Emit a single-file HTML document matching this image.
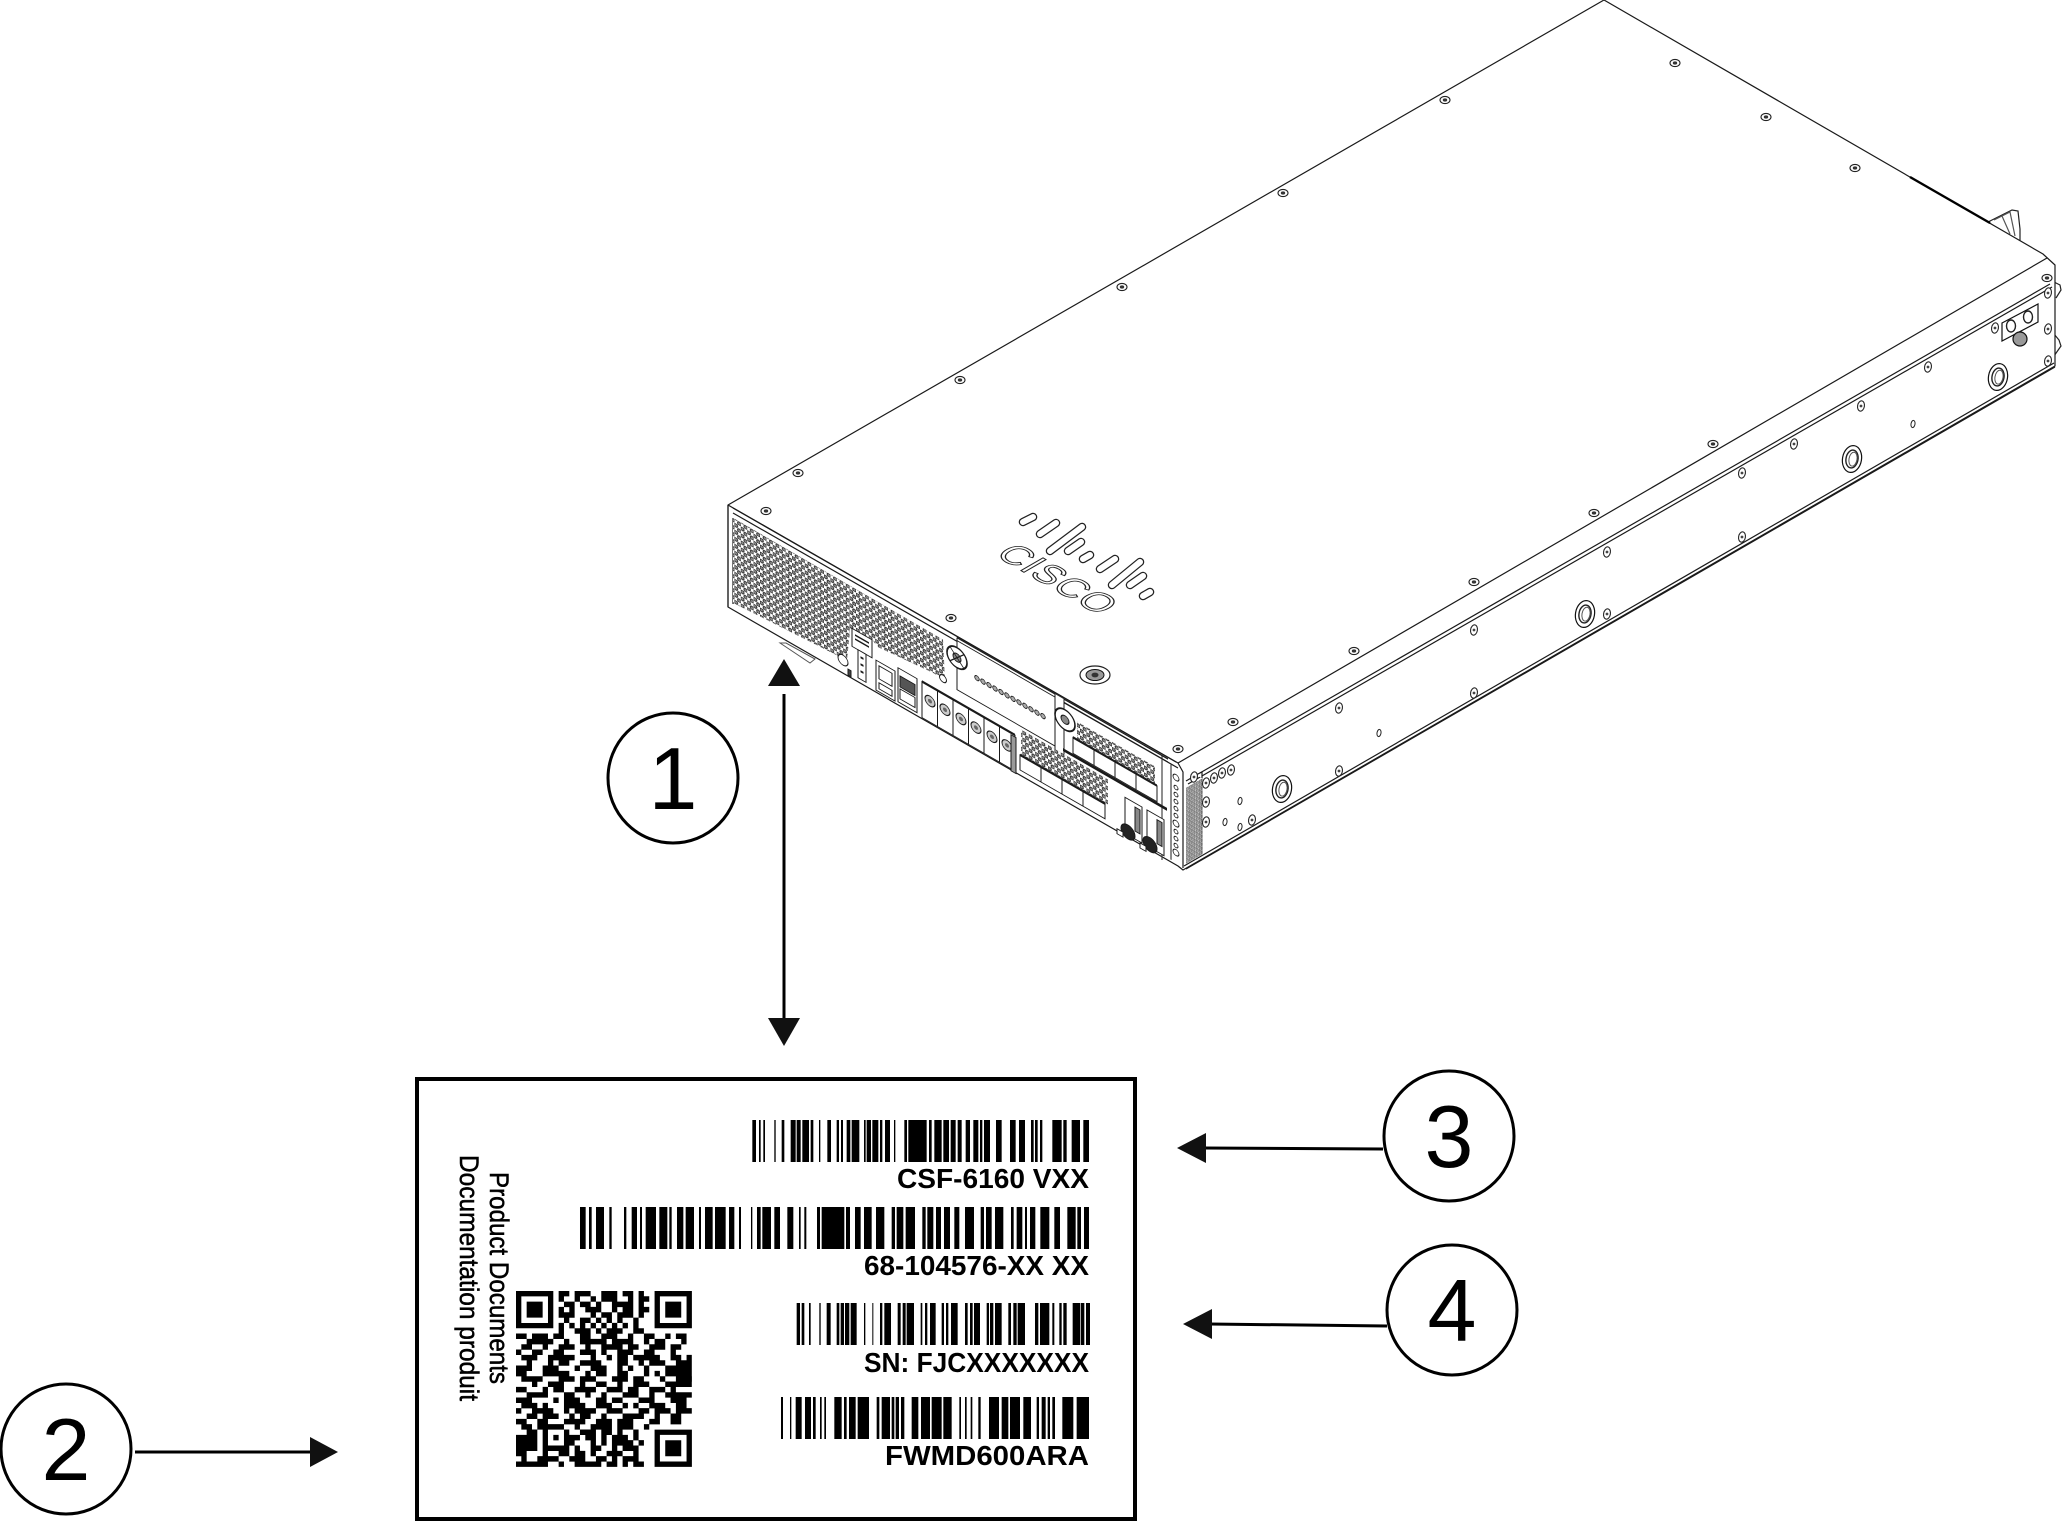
<!DOCTYPE html>
<html>
<head>
<meta charset="utf-8">
<style>
html,body{margin:0;padding:0;background:#fff}
svg{display:block}
text{font-family:"Liberation Sans",sans-serif;fill:#000}
</style>
</head>
<body>
<svg width="2062" height="1524" viewBox="0 0 2062 1524" xmlns="http://www.w3.org/2000/svg">
<defs>
<pattern id="hex" width="6.4" height="7" patternUnits="userSpaceOnUse">
<rect width="6.4" height="7" fill="#fff"/>
<circle cx="1.6" cy="1.75" r="1.7" fill="#8a8a8a" stroke="#222" stroke-width=".9"/>
<circle cx="4.8" cy="5.25" r="1.7" fill="#8a8a8a" stroke="#222" stroke-width=".9"/>
</pattern>
<pattern id="grid" width="3.4" height="4" patternUnits="userSpaceOnUse">
<rect width="3.4" height="4" fill="#fff"/>
<rect x=".4" y=".5" width="2.4" height="3" fill="#aaa" stroke="#444" stroke-width=".5"/>
</pattern>
<clipPath id="qc"><rect width="33" height="33"/></clipPath>
<g id="ts"><ellipse rx="5" ry="3.6" fill="#fff" stroke="#222" stroke-width="1.1"/><ellipse rx="2.2" ry="1.6" fill="#333"/></g>
<g id="ss"><ellipse rx="3.4" ry="5.2" fill="#fff" stroke="#222" stroke-width="1.1" transform="rotate(10)"/><circle r="1.4" fill="#444"/></g>
<g id="sm"><ellipse rx="2" ry="3.6" fill="#fff" stroke="#222" stroke-width="1" transform="rotate(10)"/></g>
<g id="gr"><ellipse rx="9.5" ry="13.5" fill="#fff" stroke="#111" stroke-width="1.2" transform="rotate(10)"/><ellipse rx="6" ry="9" fill="#fff" stroke="#222" stroke-width="1.4" transform="rotate(10)"/><ellipse cx="1" rx="4" ry="7" fill="#fff" stroke="#555" stroke-width="1" transform="rotate(10)"/></g>
</defs>

<!-- power supply latch behind -->
<g fill="#fff" stroke="#222" stroke-width="1.2">
<path d="M1988 222l24-12 6 1 2 18 0 12-8-3-24-16z"/>
<path d="M1994 220l16-8 5 24M2002 216l8 18" stroke="#555"/>
<path d="M2054 282l6 3 1 5-5 8M2054 334l5 6 2 6-7 10"/>
</g>

<!-- chassis -->
<g fill="#fff" stroke="#1a1a1a" stroke-width="1.2" stroke-linejoin="round">
<polygon points="728,505 1604,0 2043,254 2055,265 2055,366 1183,870 1178,866 728,607"/>
<path d="M1910 177L1990 223" stroke="#000" stroke-width="2.4"/>
<path d="M728 505L1178 763"/>
<path d="M1178 763L2047 258"/>
<path d="M1186 781L2050 284"/>
<path d="M1188 784L2052 287"/>
<path d="M1184 866L2054 363"/>
<path d="M1186 869L2055 367"/>
<path d="M733 508L1176 762"/>
<path d="M733 513L1178 768"/>
<path d="M1178 763L1183 772V868"/>
<path d="M1196 775l6-3v6"/>
<path d="M1162 755V860" stroke="#444"/>
<path d="M728 505V607M733 518V604"/>
</g>

<!-- top plate screws -->
<g>
<use href="#ts" x="1675" y="63"/><use href="#ts" x="1445" y="100"/><use href="#ts" x="1766" y="117"/>
<use href="#ts" x="1855" y="168"/><use href="#ts" x="1283" y="193"/><use href="#ts" x="1122" y="287"/>
<use href="#ts" x="960" y="380"/><use href="#ts" x="798" y="473"/><use href="#ts" x="766" y="511"/>
<use href="#ts" x="951" y="618"/><use href="#ts" x="1178" y="749"/><use href="#ts" x="1233" y="722"/>
<use href="#ts" x="1354" y="651"/><use href="#ts" x="1474" y="582"/><use href="#ts" x="1594" y="513"/>
<use href="#ts" x="1713" y="444"/><use href="#ts" x="2047" y="278"/>
<ellipse cx="1095" cy="675" rx="15" ry="9" fill="#fff" stroke="#222" stroke-width="1.2"/>
<ellipse cx="1095" cy="675" rx="9" ry="5.5" fill="#999" stroke="#111"/>
<ellipse cx="1095" cy="675" rx="3.5" ry="2.4" fill="#333"/>
</g>

<!-- Cisco logo -->
<g fill="none" stroke-linecap="round">
<path d="M1023 522l10-5M1040 534l16-11M1050 551l32-24M1068 551l13-9M1083 559l7-4M1100 569l15-10M1112 585l28-23M1130 585l13-9M1143 596l7-4" stroke="#222" stroke-width="8.5"/>
<path d="M1023 522l10-5M1040 534l16-11M1050 551l32-24M1068 551l13-9M1083 559l7-4M1100 569l15-10M1112 585l28-23M1130 585l13-9M1143 596l7-4" stroke="#fff" stroke-width="6"/>
</g>
<text transform="matrix(.867 .5 -.867 .5 994 555)" font-size="37" letter-spacing="1" style="fill:#fff;stroke:#222;stroke-width:1.1">CISCO</text>

<!-- front panel -->
<g transform="matrix(1 .575 0 1 728 505)" stroke="#1a1a1a" stroke-width="1" fill="#fff">
<polygon points="5,10 215,11 217,50 205,50 149,56 145,52 122,55 119,87 5,95" fill="url(#hex)" stroke="none"/>
<!-- status label -->
<rect x="124" y="52" width="20" height="18"/>
<rect x="130" y="70" width="8" height="28"/>
<path d="M127 57h14M127 61h14" stroke-width="1.6"/>
<circle cx="115" cy="89" r="5"/>
<path d="M134 75v2M134 82v2M134 89v2" stroke-width="3"/>
<rect x="120" y="95" width="3" height="6" fill="#444"/>
<!-- RJ45 + USB -->
<rect x="148" y="70" width="19" height="30"/>
<rect x="151" y="74" width="13" height="13"/>
<rect x="151" y="91" width="13" height="6"/>
<rect x="170" y="65" width="19" height="34"/>
<rect x="172" y="72" width="15" height="11" fill="#555"/>
<rect x="172" y="85" width="15" height="10"/>
<!-- SFP cages -->
<rect x="194" y="65" width="93" height="36"/>
<path d="M209.500 65v36M225 65v36M240.500 65v36M256 65v36M271.500 65v36"/>
<path d="M194 65h93" stroke-width="2.500"/>
<g fill="#ccc"><circle cx="202" cy="80" r="5"/><circle cx="217" cy="80" r="5"/><circle cx="233" cy="80" r="5"/><circle cx="248" cy="80" r="5"/><circle cx="264" cy="80" r="5"/><circle cx="279" cy="80" r="5"/></g>
<g fill="#666" stroke="none"><circle cx="202" cy="80" r="2"/><circle cx="217" cy="80" r="2"/><circle cx="233" cy="80" r="2"/><circle cx="248" cy="80" r="2"/><circle cx="264" cy="80" r="2"/><circle cx="279" cy="80" r="2"/></g>
<rect x="283" y="67" width="5" height="36" fill="#999"/>
<!-- NM module 1 -->
<path d="M229 1V53H327V1"/>
<path d="M229 1H440" stroke-width="1.4"/>
<path d="M229 4H440"/>
<circle cx="229" cy="21" r="10" fill="#fff" stroke-width="1.6"/>
<circle cx="229" cy="21" r="4" fill="#888"/>
<path d="M222 14l14 14M236 14l-14 14" stroke-width="1"/>
<g fill="#aaa" stroke-width=".8"><circle cx="249" cy="30" r="2.300"/><circle cx="255" cy="30" r="2.300"/><circle cx="261" cy="30" r="2.300"/><circle cx="267" cy="30" r="2.300"/><circle cx="273" cy="30" r="2.300"/><circle cx="279" cy="30" r="2.300"/><circle cx="285" cy="30" r="2.300"/><circle cx="291" cy="30" r="2.300"/><circle cx="297" cy="30" r="2.300"/><circle cx="303" cy="30" r="2.300"/><circle cx="309" cy="30" r="2.300"/><circle cx="315" cy="30" r="2.300"/></g>
<circle cx="215" cy="50" r="3.500"/>
<!-- NM module 2 -->
<path d="M327 1V60H336V1"/>
<circle cx="337" cy="21" r="10" stroke-width="1.6"/>
<circle cx="337" cy="21" r="4" fill="#888"/>
<rect x="349" y="16" width="78" height="17" fill="url(#hex)" stroke="none"/>
<rect x="345" y="34" width="84" height="16"/>
<path d="M366 34v16M387 34v16M408 34v16"/>
<path d="M345 34h84" stroke-width="2.400"/>
<rect x="293" y="56" width="87" height="26" fill="url(#hex)" stroke="none"/>
<rect x="292" y="82" width="85" height="15"/>
<path d="M313 82v15M334 82v15M355 82v15"/>
<path d="M292 82h85" stroke-width="2.400"/>
<path d="M335 52H439" stroke-width="3"/>
<!-- PSU -->
<rect x="397" y="64" width="17" height="36"/>
<rect x="419" y="64" width="17" height="36"/>
<rect x="407" y="68" width="5" height="24" fill="#888"/>
<rect x="429" y="68" width="5" height="24" fill="#888"/>
<circle cx="400" cy="97" r="7" fill="#222"/>
<circle cx="422" cy="97" r="7" fill="#222"/>
<rect x="389" y="100" width="6" height="5"/>
<rect x="412" y="101" width="6" height="5"/>
<!-- right column -->
<path d="M443 5V100"/>
<g fill="none" stroke-width=".9"><circle cx="448" cy="15" r="3"/><circle cx="448" cy="25" r="2"/><circle cx="448" cy="32" r="2"/><circle cx="448" cy="39" r="2"/><circle cx="448" cy="46" r="2"/><circle cx="448" cy="53" r="2"/><circle cx="448" cy="61" r="3"/><circle cx="448" cy="69" r="2"/><circle cx="448" cy="76" r="2"/><circle cx="448" cy="83" r="2"/><circle cx="448" cy="90" r="3"/></g>
</g>

<!-- bottom tab -->
<polygon points="780,643 810,663 815,659 786,643" fill="#fff" stroke="#555"/>

<!-- side panel -->
<g transform="matrix(1 -.578 0 1 1182 770)">
<rect x="4" y="20" width="17" height="76" fill="url(#grid)"/>
</g>
<g>
<use href="#ss" x="1194" y="777"/><use href="#ss" x="1206" y="783"/><use href="#ss" x="1214" y="778"/>
<use href="#ss" x="1222" y="773"/><use href="#ss" x="1231" y="770"/><use href="#ss" x="1206" y="802"/>
<use href="#ss" x="1206" y="822"/><use href="#ss" x="1252" y="820"/>
<use href="#sm" x="1240" y="801"/><use href="#sm" x="1225" y="822"/><use href="#sm" x="1240" y="827"/>
<use href="#gr" x="1282" y="789"/><use href="#gr" x="1585" y="614"/><use href="#gr" x="1852" y="459"/><use href="#gr" x="1998" y="377"/>
<use href="#ss" x="1339" y="771"/><use href="#ss" x="1339" y="708"/><use href="#sm" x="1379" y="733"/>
<use href="#ss" x="1474" y="630"/><use href="#ss" x="1474" y="693"/><use href="#ss" x="1607" y="614"/>
<use href="#ss" x="1607" y="552"/><use href="#ss" x="1742" y="473"/><use href="#ss" x="1742" y="537"/>
<use href="#ss" x="1794" y="444"/><use href="#ss" x="1861" y="406"/><use href="#sm" x="1913" y="424"/>
<use href="#ss" x="1928" y="367"/><use href="#ss" x="1995" y="328"/><use href="#ss" x="2048" y="293"/>
<use href="#ss" x="2048" y="329"/><use href="#ss" x="2048" y="361"/>
<polygon points="2002,323 2038,304 2038,322 2002,341" fill="#fff" stroke="#111" stroke-width="1.2"/>
<ellipse cx="2011" cy="326" rx="4.500" ry="6" fill="#fff" stroke="#222" stroke-width="1.400"/>
<ellipse cx="2028" cy="317" rx="4.500" ry="6" fill="#fff" stroke="#222" stroke-width="1.400"/>
<circle cx="2020" cy="339" r="7" fill="#999" stroke="#111" stroke-width="1.200"/>
</g>

<!-- callouts -->
<g fill="#fff" stroke="#000" stroke-width="3">
<circle cx="673" cy="778" r="65"/>
<circle cx="66" cy="1449" r="65"/>
<circle cx="1449" cy="1136" r="65"/>
<circle cx="1452" cy="1310" r="65"/>
</g>
<g font-size="88" text-anchor="middle">
<text x="673" y="809">1</text>
<text x="66" y="1480">2</text>
<text x="1449" y="1167">3</text>
<text x="1452" y="1341">4</text>
</g>

<!-- arrows -->
<g stroke="#000" stroke-width="3" fill="none">
<path d="M784 694V1020"/>
<path d="M135 1452H312"/>
<path d="M1383 1149L1204 1148"/>
<path d="M1387 1326L1209 1324"/>
</g>
<g fill="#111">
<polygon points="784,659 768,686 800,686"/>
<polygon points="784,1046 768,1018 800,1018"/>
<polygon points="338,1452 310,1437 310,1467"/>
<polygon points="1177,1148 1206,1133 1206,1163"/>
<polygon points="1183,1324 1212,1309 1212,1339"/>
</g>

<!-- label -->
<rect x="417" y="1079" width="718" height="440" fill="#fff" stroke="#000" stroke-width="4"/>

<g fill="none" stroke="#000">
<path transform="translate(745 0) scale(.33333 1)" d="M22 1141H1032" stroke-width="42" stroke-dasharray="11 9 5 8 5 28 4 18 8 19 15 3 12 5 20 5 8 17 4 21 11 17 7 6 6 11 11 4 23 14 5 3 13 4 18 5 7 8 15 12 4 27 8 4 55 7 8 8 22 5 17 5 15 6 12 12 13 10 15 5 7 5 18 18 17 25 17 10 18 18 8 4 8 7 7 30 28 5 10 15 25 10 17"/>
<path transform="translate(575 0) scale(.33333 1)" d="M15 1228H1542" stroke-width="42" stroke-dasharray="17 10 8 13 24 16 7 37 7 16 16 9 6 11 31 10 24 6 7 16 19 7 25 15 6 12 23 7 32 10 16 14 6 30 4 14 11 5 26 10 17 22 18 17 5 11 6 32 9 5 68 5 12 15 17 10 23 13 25 22 10 5 20 7 28 22 10 5 18 8 15 9 18 13 15 17 27 20 10 6 17 10 25 23 8 9 17 8 6 9 16 15 27 15 17 22 25 5 11 9 15"/>
<path transform="translate(790 0) scale(.33333 1)" d="M20 1324H900" stroke-width="42" stroke-dasharray="10 5 8 14 5 26 4 18 12 18 8 4 10 3 13 4 18 22 4 21 3 20 7 6 20 20 9 6 9 3 22 20 5 8 7 8 17 18 7 6 7 8 20 22 8 7 8 4 18 20 7 3 10 5 20 20 8 7 10 3 22 30 10 5 28 9 6 15 7 5 10 18 22 2 11 5 12"/>
<path transform="translate(775 0) scale(.33333 1)" d="M18 1418H942" stroke-width="42" stroke-dasharray="6 21 4 13 18 10 18 6 8 13 5 8 5 25 22 7 8 7 20 6 34 23 8 7 25 5 8 4 10 6 10 22 20 8 27 5 30 5 25 23 5 12 5 12 5 18 7 25 30 8 20 5 30 10 23 17 7 8 12 6 7 7 8 22 33 10 37"/>
</g>

<g font-weight="bold" font-size="28" text-anchor="end">
<text x="1089" y="1188" textLength="192" lengthAdjust="spacingAndGlyphs">CSF-6160 VXX</text>
<text x="1089" y="1275" textLength="225" lengthAdjust="spacingAndGlyphs">68-104576-XX XX</text>
<text x="1089" y="1372" textLength="225" lengthAdjust="spacingAndGlyphs">SN: FJCXXXXXXX</text>
<text x="1089" y="1465" textLength="204" lengthAdjust="spacingAndGlyphs">FWMD600ARA</text>
</g>
<g font-size="27" style="stroke:#000;stroke-width:.5">
<text transform="translate(490 1172) rotate(90)" textLength="212" lengthAdjust="spacingAndGlyphs">Product Documents</text>
<text transform="translate(460 1155) rotate(90)" textLength="246" lengthAdjust="spacingAndGlyphs">Documentation produit</text>
</g>

<!-- QR -->
<g transform="translate(516 1291) scale(5.33)">
<path fill="#000" fill-rule="evenodd" d="M0 0h7v7H0zM1 1v5h5V1zM2 2h3v3H2zM26 0h7v7h-7zM27 1v5h5V1zM28 2h3v3h-3zM26 26h7v7h-7zM27 27v5h5v-5zM28 28h3v3h-3z"/>
<path fill="none" clip-path="url(#qc)" stroke="#000" stroke-width="1.03" d="M8 .5h2m1 0h3m2 0h3m1 0h2m1 0h1
M8 1.500h1m2 0h1m2 0h1m1 0h3m2 0h1m1 0h2
M9 2.500h2m1 0h2m1 0h1m2 0h4m1 0h1
M8 3.500h1m1 0h1m2 0h3m2 0h1m1 0h2m1 0h2
M8 4.500h3m3 0h1m1 0h2m1 0h3m1 0h1
M9 5.500h1m2 0h2m1 0h1m1 0h1m1 0h1m2 0h1
M8 6.500h1m1 0h1m1 0h1m1 0h1m1 0h1m1 0h1m1 0h1m1 0h1
M8 7.500h1m2 0h3m1 0h1m1 0h3m2 0h2
M0 8.500h2m1 0h3m1 0h2m3 0h2m2 0h3m2 0h1m2 0h2m2 0h1m1 0h2
M2 9.500h5m2 0h1m2 0h5m1 0h4m2 0h1m1 0h2m3 0h1
M1 10.500h2m2 0h1m2 0h3m2 0h1m2 0h4m1 0h2m2 0h3m1 0h2
M0 11.500h1m2 0h2m2 0h2m3 0h3m1 0h1m2 0h3m2 0h2m3 0h1
M1 12.500h3m2 0h5m3 0h1m2 0h1m1 0h2m1 0h5m2 0h2m1 0h1
M2 13.500h1m3 0h1m1 0h2m2 0h4m3 0h2m2 0h1m1 0h3m2 0h3
M0 14.500h3m2 0h3m3 0h1m2 0h3m2 0h1m1 0h1m2 0h1m3 0h5
M0 15.500h2m3 0h5m3 0h1m1 0h2m2 0h2m3 0h1m1 0h1m1 0h5
M1 16.500h4m3 0h3m1 0h3m3 0h3m1 0h2m3 0h1m2 0h4
M3 17.500h1m2 0h3m3 0h1m2 0h2m2 0h1m2 0h3m3 0h5
M0 18.500h2m3 0h1m1 0h2m2 0h4m2 0h3m1 0h2m2 0h3m1 0h1
M2 19.500h4m3 0h2m2 0h1m2 0h1m3 0h3m2 0h1m2 0h5
M0 20.500h3m4 0h1m1 0h3m3 0h2m1 0h2m3 0h3m3 0h3
M1 21.500h3m1 0h1m3 0h4m2 0h3m2 0h1m1 0h1m2 0h3m2 0h2
M0 22.500h1m2 0h4m2 0h1m1 0h4m2 0h3m3 0h2m1 0h3m1 0h3
M2 23.500h2m1 0h3m2 0h1m1 0h2m2 0h1m3 0h4m2 0h1m2 0h2
M0 24.500h2m2 0h2m3 0h4m2 0h3m1 0h3m3 0h2m2 0h2
M1 25.500h2m1 0h5m2 0h1m2 0h4m1 0h3m2 0h1
M2 26.500h2m1 0h1m3 0h1m2 0h3m1 0h2m1 0h1m2 0h1
M0 27.500h4m1 0h1m1 0h1m1 0h3m1 0h2m1 0h1m1 0h3m1 0h1
M0 28.500h4m1 0h1m3 0h2m3 0h1m1 0h1m1 0h4m1 0h1
M0 29.500h4m1 0h5m1 0h1m2 0h2m2 0h1m1 0h3
M0 30.500h2m3 0h1m2 0h2m1 0h2m1 0h1m2 0h3m2 0h1
M1 31.500h1m2 0h4m2 0h3m2 0h2m1 0h1m1 0h3
M0 32.500h6m2 0h1m2 0h5m1 0h2m1 0h1m1 0h2"/>
</g>
</svg>
</body>
</html>
